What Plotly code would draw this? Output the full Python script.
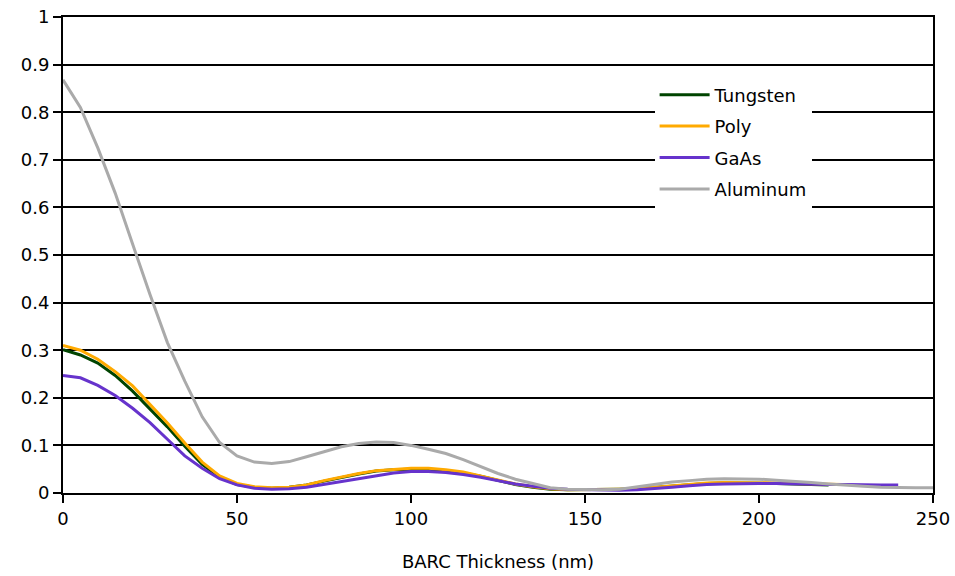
import plotly.graph_objects as go

thick_al = list(range(0, 251, 5))
aluminum = [0.868, 0.81, 0.725, 0.63, 0.523, 0.417, 0.316, 0.235, 0.160, 0.106, 0.078,
            0.065, 0.062, 0.066, 0.076, 0.087, 0.097, 0.104, 0.107, 0.106, 0.100,
            0.092, 0.083, 0.070, 0.055, 0.041, 0.029, 0.020, 0.011, 0.008, 0.007,
            0.007, 0.008, 0.013, 0.018, 0.023, 0.026, 0.029, 0.030, 0.030, 0.029,
            0.027, 0.025, 0.022, 0.019, 0.016, 0.014, 0.012, 0.011, 0.011, 0.011]

thick_w = list(range(0, 221, 5))
tungsten = [0.301, 0.290, 0.273, 0.247, 0.214, 0.177, 0.139, 0.098, 0.060, 0.033, 0.018,
            0.012, 0.010, 0.012, 0.017, 0.025, 0.033, 0.040, 0.046, 0.049, 0.050,
            0.050, 0.047, 0.042, 0.035, 0.026, 0.018, 0.012, 0.008, 0.007, 0.007,
            0.007, 0.008, 0.009, 0.012, 0.015, 0.018, 0.020, 0.021, 0.021, 0.021,
            0.020, 0.019, 0.018, 0.017]

thick_p = list(range(0, 221, 5)) + [224]
poly = [0.310, 0.300, 0.281, 0.255, 0.225, 0.186, 0.147, 0.105, 0.065, 0.036, 0.020,
        0.013, 0.011, 0.012, 0.017, 0.026, 0.034, 0.041, 0.047, 0.050, 0.052,
        0.052, 0.049, 0.044, 0.036, 0.027, 0.019, 0.013, 0.009, 0.007, 0.007,
        0.008, 0.008, 0.009, 0.012, 0.016, 0.019, 0.021, 0.022, 0.022, 0.022,
        0.021, 0.020, 0.019, 0.018, 0.018]

thick_g = list(range(0, 241, 5))
gaas = [0.247, 0.242, 0.226, 0.205, 0.178, 0.148, 0.113, 0.078, 0.052, 0.030, 0.017,
        0.010, 0.008, 0.009, 0.012, 0.018, 0.024, 0.031, 0.037, 0.042, 0.045,
        0.045, 0.043, 0.039, 0.033, 0.026, 0.019, 0.014, 0.010, 0.008, 0.007,
        0.006, 0.006, 0.007, 0.009, 0.012, 0.015, 0.018, 0.019, 0.020, 0.020,
        0.020, 0.019, 0.019, 0.018, 0.018, 0.017, 0.017, 0.017]

x_ticks = [0, 50, 100, 150, 200, 250]
y_ticks = [0, 0.1, 0.2, 0.3, 0.4, 0.5, 0.6, 0.7, 0.8, 0.9, 1]
y_tick_text = ["0", "0.1", "0.2", "0.3", "0.4", "0.5", "0.6", "0.7", "0.8", "0.9", "1"]

FONT = "DejaVu Sans"

fig = go.Figure()
fig.add_trace(go.Scatter(x=thick_w, y=tungsten, mode="lines", name="Tungsten",
                         legendgroup="a", line=dict(color="#004400", width=3)))
fig.add_trace(go.Scatter(x=thick_p, y=poly, mode="lines", name="Poly",
                         legendgroup="b", line=dict(color="#FFAA00", width=3)))
fig.add_trace(go.Scatter(x=thick_g, y=gaas, mode="lines", name="GaAs",
                         legendgroup="c", line=dict(color="#6633CC", width=3)))
fig.add_trace(go.Scatter(x=thick_al, y=aluminum, mode="lines", name="Aluminum",
                         legendgroup="d", line=dict(color="#AAAAAA", width=3)))

fig.update_layout(
    width=955, height=576,
    margin=dict(l=63, r=22, t=17, b=83, autoexpand=False),
    paper_bgcolor="white", plot_bgcolor="white",
    font=dict(family=FONT, size=18, color="black"),
    showlegend=True,
    legend=dict(x=0.68, y=0.875, xanchor="left", yanchor="top",
                bgcolor="white", borderwidth=0,
                font=dict(family=FONT, size=18, color="black"),
                itemwidth=50, tracegroupgap=5),
    xaxis=dict(range=[0, 250], tickvals=x_ticks, ticks="outside", ticklen=8,
               tickcolor="black", tickwidth=2, showgrid=False, zeroline=False,
               showline=True, linecolor="black", linewidth=2, mirror=True,
               automargin=False,
               title=dict(text="BARC Thickness (nm)", font=dict(size=18), standoff=28),
               tickfont=dict(size=18)),
    yaxis=dict(range=[0, 1], tickvals=y_ticks, ticktext=y_tick_text, ticks="outside",
               ticklen=8, tickcolor="black", tickwidth=2, showgrid=True,
               gridcolor="black", gridwidth=1.5, zeroline=False,
               showline=True, linecolor="black", linewidth=2, mirror=True,
               automargin=False,
               tickfont=dict(size=18)),
)

fig.write_html("out.html", config={"displayModeBar": False},
               post_script="document.body.style.margin='0px';document.body.style.overflow='hidden';")
